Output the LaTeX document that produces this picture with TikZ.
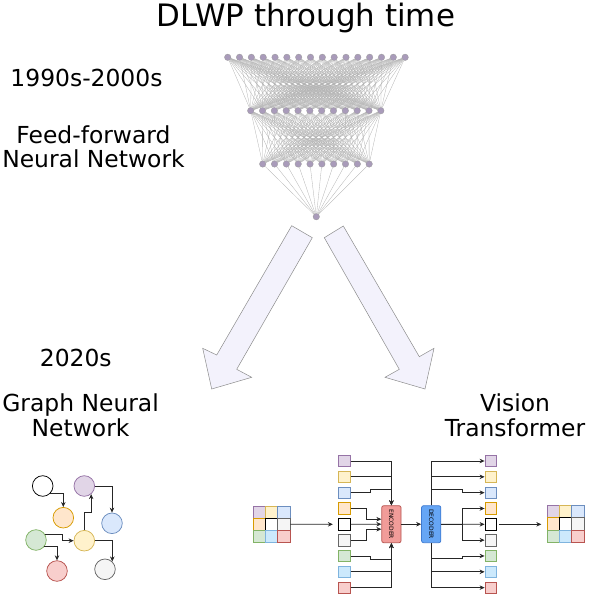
\documentclass[tikz,border=0pt]{standalone}
\usepackage{fontspec}
\setmainfont{DejaVu Sans}
\usetikzlibrary{arrows.meta,backgrounds,calc}

\definecolor{purF}{HTML}{E1D5E7}\definecolor{purD}{HTML}{9673A6}
\definecolor{yelF}{HTML}{FFF2CC}\definecolor{yelD}{HTML}{D6B656}
\definecolor{bluF}{HTML}{DAE8FC}\definecolor{bluD}{HTML}{6C8EBF}
\definecolor{oraF}{HTML}{FFE6CC}\definecolor{oraD}{HTML}{D79B00}
\definecolor{whtF}{HTML}{FFFFFF}\definecolor{whtD}{HTML}{000000}
\definecolor{gryF}{HTML}{F5F5F5}\definecolor{gryD}{HTML}{666666}
\definecolor{grnF}{HTML}{D5E8D4}\definecolor{grnD}{HTML}{82B366}
\definecolor{cyaF}{HTML}{CCE9FC}\definecolor{cyaD}{HTML}{7FB4DE}
\definecolor{redF}{HTML}{F8CECC}\definecolor{redD}{HTML}{B85450}
\definecolor{encF}{HTML}{F19C99}\definecolor{encD}{HTML}{B85450}
\definecolor{decF}{HTML}{66A6F5}\definecolor{decD}{HTML}{3F7BD2}
\definecolor{nnF}{HTML}{A99BBA}
\definecolor{wideF}{HTML}{F3F2FC}

\begin{document}
\begin{tikzpicture}[x=1bp,y=-1bp,
  neuron/.style={circle,fill=nnF,draw=black!40,line width=0.3bp,inner sep=0pt,minimum size=6.5bp},
  synapse/.style={draw=black!30,line width=0.3bp},
  heading/.style={font=\fontsize{23.5}{25}\selectfont,align=center,anchor=base,inner sep=0pt},
  widearrow/.style={draw=black!45,fill=wideF,line width=0.5bp,line join=miter},
  gnode/.style={circle,minimum size=20.6bp,inner sep=0pt,line width=0.75bp},
  token/.style={minimum size=11.5bp,inner sep=0pt,line width=0.75bp},
  cell/.style={minimum size=12.2bp,inner sep=0pt,line width=0.75bp},
  link/.style={draw=black!85,line width=0.75bp,-{Stealth[length=5bp,width=4.5bp]}},
  coder/.style={rounded corners=2bp,minimum width=19.3bp,minimum height=37bp,line width=0.75bp,inner sep=0pt,font=\fontsize{6}{6}\selectfont}]
  \useasboundingbox (0,0) rectangle (591,600);

  \node[heading,font=\fontsize{31}{34}\selectfont] (title) at (306,26.7) {DLWP through time};
  \node[heading] (era1) at (86.5,87) {1990s-2000s};
  \node[heading] (ffnn) at (93.5,168) {Feed-forward\\Neural Network};
  \node[heading] (era2) at (75.8,366.7) {2020s};
  \node[heading] (gnn) at (80.6,436.7) {Graph Neural\\Network};
  \node[heading] (vit) at (515,436.7) {Vision\\Transformer};

  \foreach \i in {1,...,16}
    \node[neuron] (t\i) at ({227.7+(\i-1)*11.83},57.3) {};
  \foreach \i in {1,...,12}
    \node[neuron] (m\i) at ({250.7+(\i-1)*11.83},110.7) {};
  \foreach \i in {1,...,10}
    \node[neuron] (b\i) at ({262.7+(\i-1)*11.83},164) {};
  \node[neuron] (o) at (316.3,216.7) {};
  \begin{scope}[on background layer]
    \foreach \i in {1,...,16}
      \foreach \j in {1,...,12}
        \draw[synapse] (t\i) -- (m\j);
    \foreach \i in {1,...,12}
      \foreach \j in {1,...,10}
        \draw[synapse] (m\i) -- (b\j);
    \foreach \i in {1,...,10}
      \draw[synapse] (b\i) -- (o);
  \end{scope}

  \draw[widearrow] (291.7,225.7) -- (312.3,237.7) -- (236.7,369.3) -- (251.7,377.3)
    -- (211.7,389) -- (202.7,348.3) -- (216.7,355) -- cycle;
  \draw[widearrow] (324.3,237.7) -- (343.3,226) -- (419.3,356.7) -- (434,348.3)
    -- (425,389) -- (385,377.3) -- (399.3,369.3) -- cycle;

  \node[gnode,fill=whtF,draw=whtD] (gw) at (42.7,486) {};
  \node[gnode,fill=oraF,draw=oraD] (go) at (63.3,517.7) {};
  \node[gnode,fill=purF,draw=purD] (gp) at (84.3,486) {};
  \node[gnode,fill=bluF,draw=bluD] (gb) at (112,523.3) {};
  \node[gnode,fill=grnF,draw=grnD] (gg) at (36,540) {};
  \node[gnode,fill=yelF,draw=yelD] (gy) at (84.3,540.7) {};
  \node[gnode,fill=redF,draw=redD] (gr) at (57,571) {};
  \node[gnode,fill=gryF,draw=gryD] (gx) at (105,569.3) {};
  \draw[link] (gw.-45) -| (go.north);
  \draw[link] (gp.east) -| (gb.north);
  \draw[link] (gy.north) -- ++(0,-17.3) -| (gp.-50);
  \draw[link] (gg.30) -- ++(16.7,0) |- (gy.west);
  \draw[link] (gg.-40) -| (gr.north);
  \draw[link] (gy.east) -| (gx.47);

  \foreach \c [count=\k from 1] in {pur,yel,blu,ora,wht,gry,grn,cya,red} {
    \pgfmathtruncatemacro\row{(\k-1)/3}
    \pgfmathtruncatemacro\col{mod(\k-1,3)}
    \node[cell,fill=\c F,draw=\c D] (gin\k) at ({259.4+\col*12.2},{512.1+\row*12.2}) {};
    \node[cell,fill=\c F,draw=\c D] (gout\k) at ({553.4+\col*12.2},{511.7+\row*12.2}) {};
    \node[token,fill=\c F,draw=\c D] (in\k) at (344.5,{461+(\k-1)*15.83}) {};
    \node[token,fill=\c F,draw=\c D] (out\k) at (490.7,{461+(\k-1)*15.83}) {};
  }
  \node[coder,fill=encF,draw=encD] (enc) at (391.4,524.2) {\rotatebox{-90}{ENCODER}};
  \node[coder,fill=decF,draw=decD] (dec) at (431.2,524.2) {\rotatebox{-90}{DECODER}};

  \draw[link,shorten >=5.5bp] (gin6.east) -- (in5.west);
  \draw[link] (in1.east) -| (enc.north);
  \draw[link] (in2.east) -| (enc.north);
  \draw[link] (in3.east) -- ++(20,0) -- ++(0,-3) -| (enc.north);
  \draw[link] (in4.east) -- ++(15.3,0) |- ($(enc.west)+(0,-5)$);
  \draw[link] (in5.east) -- (enc.west);
  \draw[link] (in6.east) -- ++(15.3,0) |- ($(enc.west)+(0,5)$);
  \draw[link] (in7.east) -- ++(20,0) -- ++(0,3) -| (enc.south);
  \draw[link] (in8.east) -| (enc.south);
  \draw[link] (in9.east) -| (enc.south);
  \draw[link] (enc.east) -- (dec.west);

  \draw[link] (dec.north) |- (out1.west);
  \draw[link] (dec.north) |- (out2.west);
  \draw[link] (dec.north) -- ++(0,-15.7) -- ++(31.5,0) |- (out3.west);
  \draw[link] (dec.east) -- ++(21,0) |- (out4.west);
  \draw[link] (dec.east) -- (out5.west);
  \draw[link] (dec.east) -- ++(21,0) |- (out6.west);
  \draw[link] (dec.south) -- ++(0,15) -- ++(31.5,0) |- (out7.west);
  \draw[link] (dec.south) |- (out8.west);
  \draw[link] (dec.south) |- (out9.west);
  \draw[link,shorten <=2.5bp,shorten >=5.6bp] (out5.east) -- (gout4.west |- out5.east);
\end{tikzpicture}
\end{document}
